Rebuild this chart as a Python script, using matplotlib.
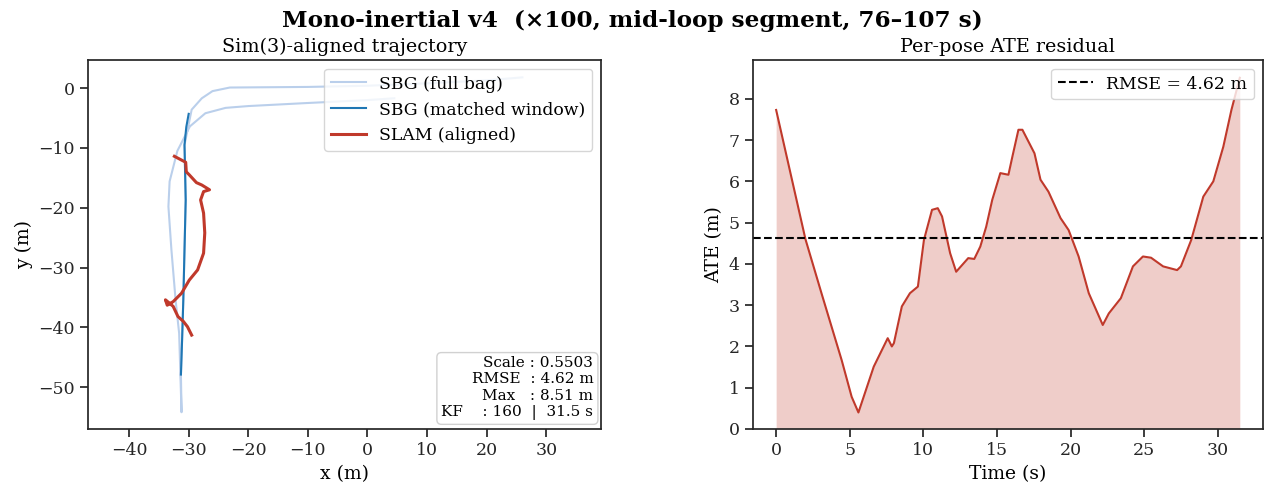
import matplotlib
matplotlib.use('Agg')
import matplotlib.pyplot as plt

plt.rcParams['font.family'] = ['DejaVu Serif']
plt.rcParams['axes.edgecolor'] = '#262626'
plt.rcParams['axes.linewidth'] = 1.25
plt.rcParams['xtick.major.width'] = 1.25
plt.rcParams['ytick.major.width'] = 1.25
plt.rcParams['xtick.major.size'] = 6
plt.rcParams['ytick.major.size'] = 6
plt.rcParams['xtick.color'] = '#262626'
plt.rcParams['ytick.color'] = '#262626'

# Sim(3)-aligned trajectory (x, y in metres)
full_x = [4.5, 0.0, -10.3, -20.0, -23.8, -27.2, -29.8, -31.9, -33.2, -33.4, -32.9, -32.2, -31.6, -31.2,
          -31.3, -30.9, -30.5, -30.7, -29.5, -27.8, -26.0, -23.1, -10.0, 0.0, 10.0, 20.0, 26.0]
full_y = [-1.7, -2.0, -2.5, -3.0, -3.3, -4.2, -6.4, -10.5, -15.6, -19.8, -27.0, -35.4, -41.0, -54.2,
          -47.9, -35.4, -18.7, -9.5, -3.6, -1.7, -0.5, 0.1, 0.2, 0.4, 0.8, 1.3, 1.8]

win_x = [-30.0, -30.4, -30.7, -30.6, -30.5, -30.7, -30.9, -31.1, -31.3]
win_y = [-4.3, -6.5, -9.5, -14.0, -18.7, -27.0, -35.4, -42.0, -47.9]

slam_x = [-32.4, -30.5, -30.4, -29.9, -28.7, -27.8, -26.5, -27.5, -28.0, -27.5, -27.3, -27.5,
          -28.5, -29.9, -31.2, -32.6, -33.6, -33.9, -33.3, -32.6, -31.8, -30.9, -30.2, -29.5]
slam_y = [-11.4, -12.4, -14.0, -14.5, -15.8, -16.2, -17.0, -17.3, -18.7, -20.9, -24.2, -27.6,
          -30.4, -32.1, -34.3, -35.7, -36.3, -35.4, -35.9, -36.5, -38.2, -39.0, -39.9, -41.3]

# Per-pose ATE residual
t = [0.0, 1.99, 3.08, 4.45, 5.13, 5.59, 6.63, 7.58, 7.86, 8.0, 8.54, 9.09, 9.63, 10.04, 10.59,
     10.98, 11.27, 11.82, 12.23, 13.05, 13.46, 13.87, 14.27, 14.68, 15.23, 15.78, 16.05, 16.46,
     16.73, 17.55, 17.96, 18.5, 19.32, 19.87, 20.55, 21.24, 22.19, 22.6, 23.42, 24.24, 24.92,
     25.47, 26.29, 27.24, 27.5, 28.2, 29.02, 29.7, 30.38, 30.93, 31.5]
ate = [7.73, 4.6, 3.29, 1.67, 0.78, 0.40, 1.51, 2.2, 2.0, 2.08, 2.97, 3.29, 3.45, 4.58, 5.31,
       5.35, 5.15, 4.26, 3.81, 4.14, 4.12, 4.42, 4.9, 5.55, 6.2, 6.16, 6.6, 7.25,
       7.25, 6.68, 6.04, 5.75, 5.11, 4.82, 4.18, 3.29, 2.52, 2.8, 3.17, 3.94, 4.18,
       4.15, 3.94, 3.85, 3.94, 4.58, 5.63, 6.0, 6.84, 7.73, 8.51]
rmse = 4.62

red = '#c0392b'

fig = plt.figure(figsize=(12.64, 4.94), dpi=100)
fig.suptitle('Mono-inertial v4  (×100, mid-loop segment, 76–107 s)',
             fontsize=16.7, fontweight='bold', y=0.98)

ax1 = fig.add_axes([0.0696, 0.1316, 0.4059, 0.7469])
ax1.plot(full_x, full_y, color='#aec7e8', lw=1.5, alpha=0.85, label='SBG (full bag)')
ax1.plot(win_x, win_y, color='#1f77b4', lw=1.5, label='SBG (matched window)')
ax1.plot(slam_x, slam_y, color=red, lw=2.2, label='SLAM (aligned)')
ax1.set_xlim(-46.9, 39.2)
ax1.set_ylim(-57.0, 4.7)
ax1.set_xticks([-40, -30, -20, -10, 0, 10, 20, 30])
ax1.set_yticks([0, -10, -20, -30, -40, -50])
ax1.set_xlabel('x (m)', fontsize=13.5)
ax1.set_ylabel('y (m)', fontsize=13.5)
ax1.set_title('Sim(3)-aligned trajectory', fontsize=13.8)
ax1.tick_params(labelsize=12.5)
ax1.legend(loc='upper right', fontsize=12.4, borderaxespad=0.5)
ax1.text(0.985, 0.025, 'Scale : 0.5503\nRMSE  : 4.62 m\nMax   : 8.51 m\nKF    : 160  |  31.5 s',
         transform=ax1.transAxes, ha='right', va='bottom', fontsize=11, multialignment='right',
         bbox=dict(boxstyle='round,pad=0.3', facecolor='white', edgecolor='#cccccc', alpha=0.9))

ax2 = fig.add_axes([0.5957, 0.1316, 0.4035, 0.7469])
ax2.fill_between(t, 0, ate, color=red, alpha=0.25, lw=0)
ax2.plot(t, ate, color=red, lw=1.5)
ax2.axhline(rmse, color='black', ls='--', lw=1.5, label='RMSE = %.2f m' % rmse)
ax2.set_xlim(-1.575, 33.075)
ax2.set_ylim(0, 8.94)
ax2.set_xlabel('Time (s)', fontsize=13.5)
ax2.set_ylabel('ATE (m)', fontsize=13.5)
ax2.set_title('Per-pose ATE residual', fontsize=13.8)
ax2.tick_params(labelsize=12.5)
ax2.legend(loc='upper right', fontsize=12.4)

fig.savefig('out.png', dpi=100)
